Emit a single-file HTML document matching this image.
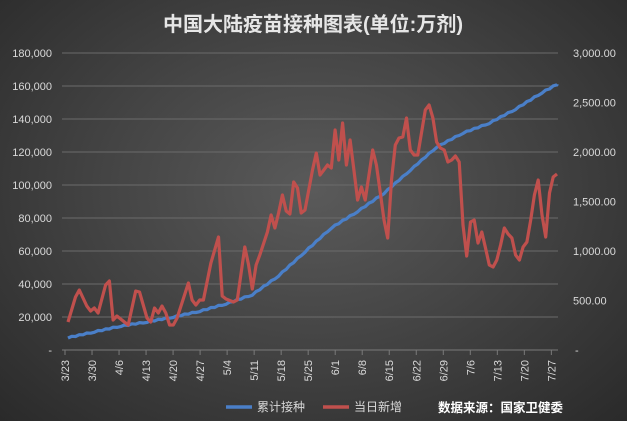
<!DOCTYPE html>
<html><head><meta charset="utf-8"><style>
html,body{margin:0;padding:0;}
body{width:627px;height:421px;overflow:hidden;background:radial-gradient(ellipse at 50% 45%,#5a5a5a 0%,#454545 45%,#2a2a2a 100%);font-family:"Liberation Sans","Noto Sans CJK SC",sans-serif;}
svg{position:absolute;left:0;top:0}
</style></head><body>
<svg id="s" width="627" height="421" xmlns="http://www.w3.org/2000/svg">
<text x="313" y="31" text-anchor="middle" fill="#e6e6e6" font-size="20" font-weight="bold" font-family="Liberation Sans,Noto Sans CJK SC,sans-serif">中国大陆疫苗接种图表(单位:万剂)</text>
<g id="grid"></g>
<g id="lab" fill="#d9d9d9" font-size="11" font-family="Liberation Sans,sans-serif"></g>
<polyline id="blue" fill="none" stroke="#4a7fc8" stroke-width="3.2" stroke-linejoin="round"/>
<polyline id="red" fill="none" stroke="#c0504d" stroke-width="3.2" stroke-linejoin="round"/>
<line x1="226" y1="407" x2="252" y2="407" stroke="#4a7fc8" stroke-width="3.5"/>
<text x="257" y="411" fill="#d9d9d9" font-size="12" font-family="Liberation Sans,Noto Sans CJK SC,sans-serif">累计接种</text>
<line x1="323" y1="407" x2="349" y2="407" stroke="#c0504d" stroke-width="3.5"/>
<text x="354" y="411" fill="#d9d9d9" font-size="12" font-family="Liberation Sans,Noto Sans CJK SC,sans-serif">当日新增</text>
<text x="438" y="412" fill="#ffffff" font-size="12.5" font-weight="bold" font-family="Liberation Sans,Noto Sans CJK SC,sans-serif">数据来源：国家卫健委</text>
</svg>
<script>
var NS="http://www.w3.org/2000/svg";
function el(t,a,p,txt){var e=document.createElementNS(NS,t);for(var k in a)e.setAttribute(k,a[k]);if(txt!==undefined)e.textContent=txt;p.appendChild(e);return e;}
var g=document.getElementById('grid'),lab=document.getElementById('lab');
var y0=350,y180=53;
function yl(v){return y0-(v/180000)*(y0-y180);}
for(var i=0;i<=9;i++){var v=i*20000,y=yl(v);
 if(i>0)el('line',{x1:62,x2:558,y1:y,y2:y,stroke:'#6b6b6b','stroke-width':1},g);
 el('text',{x:52,y:y+4,'text-anchor':'end'},lab,i==0?'-':v.toLocaleString('en-US'));}
el('line',{x1:62,x2:558,y1:y0,y2:y0,stroke:'#7a7a7a','stroke-width':1},g);
var rl=['-','500.00','1,000.00','1,500.00','2,000.00','2,500.00','3,000.00'];
for(var i=0;i<7;i++){var y=y0-i*(y0-y180)/6;el('text',{x:i==0?575:573,y:y+4},lab,rl[i]);}
function X(d){return 65+d*3.86;}
var wk=['3/23','3/30','4/6','4/13','4/20','4/27','5/4','5/11','5/18','5/25','6/1','6/8','6/15','6/22','6/29','7/6','7/13','7/20','7/27'];
for(var i=0;i<wk.length;i++){var x=X(i*7);
 el('line',{x1:x,x2:x,y1:y0,y2:y0+5,stroke:'#7a7a7a'},g);
 el('text',{x:0,y:0,'text-anchor':'end',transform:'translate('+(x+4)+','+(y0+10)+') rotate(-90)'},lab,wk[i]);}
function D(s){var p=s.split('/'),m=+p[0],d=+p[1];return m==3?d-23:m==4?8+d:m==5?38+d:m==6?69+d:99+d;}
var red=[['3/23',322],['3/25',297],['3/26',290],['3/28',306],['3/29',311],['3/30',308],['3/31',313],['4/2',285],['4/3',281],['4/4',320],['4/5',316],['4/7',322],['4/8',325],['4/10',291],['4/11',292],['4/13',318],['4/14',322],['4/15',308],['4/16',313],['4/17',306],['4/18',313],['4/19',325],['4/20',325],['4/21',318],['4/24',283],['4/25',300],['4/26',305],['4/27',300],['4/28',300],['4/30',263],['5/2',237],['5/3',296],['5/4',299],['5/6',302],['5/7',300],['5/9',247],['5/10',265],['5/11',289],['5/12',265],['5/13',255],['5/15',232],['5/16',215],['5/17',228],['5/18',213],['5/19',195],['5/20',211],['5/21',214],['5/22',182],['5/23',188],['5/24',213],['5/25',210],['5/27',170],['5/28',153],['5/29',175],['5/30',170],['5/31',165],['6/1',168],['6/2',130],['6/3',160],['6/4',123],['6/5',165],['6/6',140],['6/7',170],['6/8',200],['6/9',187],['6/10',200],['6/12',150],['6/13',165],['6/14',192],['6/15',220],['6/16',238],['6/17',180],['6/18',145],['6/19',138],['6/20',137],['6/21',118],['6/22',150],['6/23',155],['6/24',155],['6/26',110],['6/27',105],['6/28',118],['6/29',142],['6/30',148],['7/1',150],['7/2',162],['7/3',160],['7/4',156],['7/5',162],['7/6',225],['7/7',256],['7/8',222],['7/9',220],['7/10',243],['7/11',232],['7/12',248],['7/13',265],['7/14',267],['7/15',260],['7/16',245],['7/17',228],['7/18',234],['7/19',238],['7/20',255],['7/21',260],['7/22',247],['7/23',242],['7/24',220],['7/25',195],['7/26',180],['7/27',215],['7/28',237],['7/29',193],['7/30',177],['7/31',174]];
var rp=[];
for(var i=0;i<red.length;i++){var d=D(red[i][0]);var x=68+d*(557-68)/130;rp.push(x.toFixed(1)+','+red[i][1]);}
document.getElementById('red').setAttribute('points',rp.join(' '));
var bl=[[0,7500],[7,11000],[14,14500],[21,17000],[28,20000],[35,23500],[42,28000],[49,33500],[56,45000],[63,59500],[70,74000],[77,84000],[84,95000],[91,109000],[98,123000],[105,131500],[112,137500],[119,146000],[126,156000],[130,161000]];
var bp=[];
for(var i=0;i<bl.length-1;i++){for(var k=0;k<7;k++){var d=bl[i][0]+k;if(d>bl[i+1][0])break;var t=(d-bl[i][0])/(bl[i+1][0]-bl[i][0]);var v=bl[i][1]+t*(bl[i+1][1]-bl[i][1])+(k%2?300:-300);bp.push((68+d*(557-68)/130).toFixed(1)+','+yl(v).toFixed(1));}}
bp.push('557,'+yl(161000).toFixed(1));
document.getElementById('blue').setAttribute('points',bp.join(' '));
</script>
</body></html>
